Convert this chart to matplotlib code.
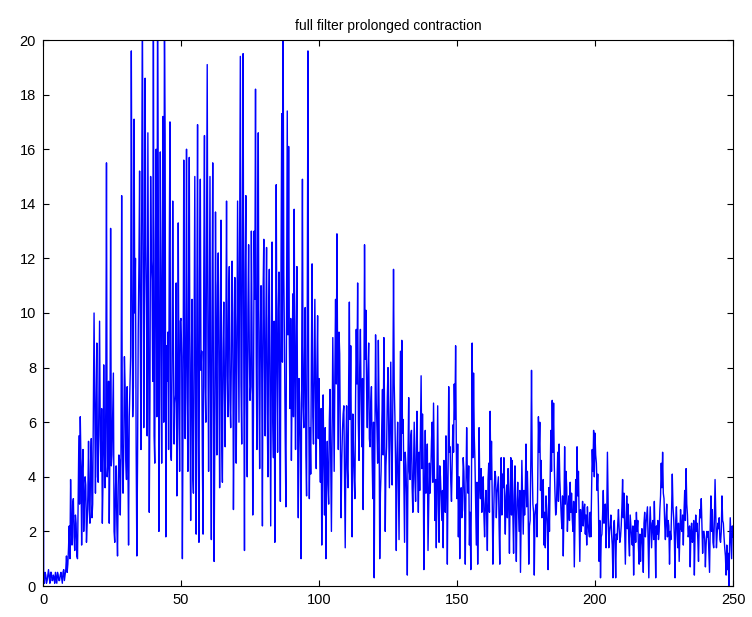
import numpy as np
import matplotlib
matplotlib.use("Agg")
import matplotlib.pyplot as plt

title = "full filter prolonged contraction"
x_ticks = [0, 50, 100, 150, 200, 250]
y_ticks = [0, 2, 4, 6, 8, 10, 12, 14, 16, 18, 20]
step = 0.25

# signal values, blocks of 10 units.
# blk_* : samples at base + 0.5*k ; mid_* : samples at base + 0.25 + 0.5*k
blk_000 = [30.0, 0.1, 0.4, 0.2, 0.6, 0.1, 0.5, 0.2, 0.3, 0.5, 0.1, 0.4, 0.2, 0.5, 0.1, 0.6, 0.4, 1.1, 0.8, 2.2]
blk_010 = [3.9, 1.5, 3.2, 1.3, 2.3, 1.0, 5.5, 6.2, 1.5, 5.0, 2.9, 3.7, 2.3, 5.3, 2.3, 5.4, 3.0, 10.0, 3.4, 8.9]
blk_020 = [3.8, 9.7, 4.2, 2.3, 8.1, 3.6, 15.5, 4.5, 2.3, 13.1, 4.8, 7.8, 1.6, 4.4, 1.1, 4.8, 2.6, 14.3, 3.4, 8.4]
blk_030 = [4.6, 7.3, 1.5, 7.3, 19.6, 6.2, 17.1, 12.0, 1.1, 9.3, 15.2, 5.0, 21.5, 5.8, 18.6, 10.2, 16.6, 2.7, 15.0, 11.2]
blk_040 = [22.0, 4.5, 16.0, 21.0, 2.0, 15.9, 4.5, 17.2, 21.0, 1.8, 7.5, 5.0, 17.0, 4.6, 14.1, 5.2, 7.0, 3.3, 13.3, 4.2]
blk_050 = [9.8, 1.0, 15.6, 5.4, 16.0, 4.2, 15.7, 2.4, 10.5, 3.4, 15.0, 1.9, 16.9, 1.6, 14.9, 8.6, 1.9, 16.5, 6.0, 19.1]
blk_060 = [4.2, 15.0, 1.7, 15.5, 0.9, 13.7, 4.8, 12.2, 3.6, 13.4, 3.8, 10.4, 5.1, 14.1, 6.2, 11.7, 5.8, 11.9, 2.8, 11.3]
blk_070 = [4.5, 14.1, 6.0, 19.4, 5.2, 19.5, 1.3, 14.3, 4.0, 12.5, 6.8, 13.0, 2.6, 13.0, 18.2, 5.0, 16.6, 4.3, 11.0, 2.2]
blk_080 = [12.7, 5.5, 12.4, 4.0, 11.6, 2.2, 12.6, 4.7, 1.6, 14.7, 4.9, 11.5, 3.1, 17.3, 20.5, 8.8, 2.9, 17.4, 16.1, 6.5]
blk_090 = [4.6, 10.7, 13.8, 5.0, 11.7, 2.5, 6.7, 1.0, 14.9, 5.8, 10.2, 3.3, 19.6, 3.2, 4.1, 11.8, 5.2, 10.5, 4.3, 9.9]
blk_100 = [7.6, 3.8, 1.5, 7.0, 2.6, 1.0, 5.3, 3.0, 7.2, 2.0, 9.1, 4.2, 10.5, 12.9, 5.0, 8.5, 2.5, 5.7, 6.6, 1.4]
blk_110 = [6.6, 3.6, 10.4, 8.8, 1.8, 5.0, 3.2, 9.4, 11.1, 4.6, 9.4, 5.1, 2.8, 12.5, 10.1, 5.8, 8.9, 5.1, 7.3, 3.2]
blk_120 = [0.3, 9.2, 5.8, 9.0, 1.0, 4.2, 7.2, 9.1, 2.0, 5.1, 8.0, 3.6, 8.2, 3.7, 11.6, 6.2, 1.3, 6.0, 1.7, 8.6]
blk_130 = [9.0, 6.1, 1.6, 4.4, 0.4, 6.9, 3.9, 5.7, 2.7, 6.0, 3.1, 6.4, 2.7, 3.5, 7.7, 6.3, 0.6, 5.7, 4.0, 1.3]
blk_140 = [4.5, 4.1, 6.0, 6.7, 2.4, 1.4, 6.6, 1.6, 4.0, 2.4, 1.4, 3.5, 5.5, 0.8, 7.3, 5.1, 3.1, 5.9, 7.4, 8.8]
blk_150 = [3.2, 1.8, 1.0, 3.6, 2.8, 4.2, 0.8, 5.8, 3.4, 1.5, 0.6, 8.9, 7.8, 4.6, 1.5, 0.8, 5.8, 3.2, 2.7, 4.0]
blk_160 = [1.8, 3.5, 1.3, 4.5, 6.4, 5.3, 0.8, 3.6, 4.0, 3.4, 4.0, 0.8, 4.7, 4.1, 4.7, 1.9, 3.7, 4.3, 1.2, 4.7]
blk_170 = [4.6, 1.2, 4.4, 0.9, 3.8, 2.0, 0.5, 4.6, 1.9, 2.6, 5.2, 4.2, 0.8, 2.4, 7.9, 3.0, 0.4, 2.9, 1.8, 6.2]
blk_180 = [6.0, 4.6, 3.1, 1.5, 1.4, 2.8, 0.6, 2.0, 5.7, 6.8, 6.7, 3.4, 2.8, 4.9, 5.2, 3.2, 2.1, 1.1, 5.1, 4.2]
blk_190 = [2.0, 3.3, 3.8, 3.4, 2.0, 0.7, 3.9, 5.1, 4.2, 0.9, 2.0, 3.1, 2.8, 1.9, 1.5, 2.3, 1.8, 1.8, 5.0, 5.7]
blk_200 = [5.6, 4.5, 4.1, 0.9, 0.3, 1.9, 3.5, 2.9, 1.4, 4.9, 1.4, 2.2, 1.9, 0.3, 2.4, 0.3, 1.7, 2.8, 1.6, 2.2]
blk_210 = [3.9, 3.4, 0.8, 3.3, 3.0, 1.1, 2.2, 1.5, 0.4, 2.4, 2.7, 2.4, 0.8, 0.9, 2.1, 0.5, 2.7, 2.3, 2.9, 0.3]
blk_220 = [2.9, 1.4, 2.4, 3.1, 0.3, 1.9, 1.7, 2.8, 4.5, 4.9, 3.2, 1.7, 3.0, 2.4, 0.8, 1.7, 4.1, 2.5, 0.3, 2.9]
blk_230 = [1.4, 0.9, 2.8, 2.0, 1.5, 3.5, 4.3, 2.6, 1.9, 0.7, 2.3, 1.7, 0.4, 2.6, 2.3, 0.9, 2.8, 3.2, 1.2, 2.0]
blk_240 = [0.7, 2.0, 2.0, 0.5, 3.3, 2.8, 1.4, 3.9, 1.4, 2.3, 2.5, 1.6, 3.3, 2.3, 1.4, 0.4, 0.6, 0.0, 2.5, 1.0, 1.8]

mid_000 = [0.3, 0.5, 0.1, 0.4, 0.3, 0.5, 0.2, 0.4, 0.1, 0.3, 0.5, 0.2, 0.4, 0.3, 0.5, 0.2, 0.6, 0.5, 1.4, 1.0]
mid_010 = [2.2, 3.0, 1.8, 2.6, 1.1, 3.2, 3.0, 4.6, 4.3, 2.0, 4.0, 1.6, 3.3, 2.8, 4.6, 2.5, 6.6, 6.8, 6.6, 4.0]
mid_020 = [6.7, 5.5, 6.5, 3.9, 5.2, 6.6, 4.0, 7.5, 5.0, 4.4, 6.3, 2.0, 3.5, 2.3, 3.7, 4.6, 4.8, 5.2, 4.9, 7.3]
mid_030 = [3.9, 4.9, 6.2, 8.4, 11.8, 7.3, 10.0, 5.1, 4.5, 11.7, 9.2, 12.8, 13.9, 10.1, 12.5, 5.5, 9.8, 6.9, 11.9, 7.5]
mid_040 = [5.5, 12.5, 6.2, 15.1, 6.8, 11.0, 11.5, 6.0, 16.5, 8.8, 9.3, 12.1, 4.9, 7.8, 9.0, 6.7, 11.1, 5.8, 7.4, 9.7]
mid_050 = [8.4, 6.4, 9.3, 8.5, 6.9, 10.8, 6.8, 8.2, 4.1, 9.6, 6.7, 10.3, 5.5, 11.5, 7.9, 4.5, 11.4, 7.3, 12.2, 9.1]
mid_060 = [9.2, 6.1, 10.2, 7.4, 5.6, 8.7, 11.0, 7.5, 9.8, 5.3, 8.6, 7.2, 9.0, 7.7, 10.4, 6.8, 8.3, 10.0, 6.4, 9.5]
mid_070 = [8.1, 9.8, 12.3, 7.4, 13.2, 8.2, 11.4, 6.7, 10.1, 8.6, 7.3, 9.2, 6.2, 10.5, 8.4, 12.0, 7.4, 9.3, 7.9, 10.8]
mid_080 = [8.2, 9.5, 6.3, 9.8, 7.1, 8.4, 6.0, 9.7, 7.6, 8.0, 10.1, 6.6, 12.0, 8.2, 11.4, 5.5, 10.4, 9.2, 8.9, 9.8]
mid_090 = [7.3, 6.2, 8.1, 9.2, 6.0, 7.6, 4.9, 8.7, 6.6, 8.3, 4.8, 9.9, 7.0, 5.8, 8.5, 6.2, 7.8, 6.9, 8.0, 5.4]
mid_100 = [5.2, 6.5, 4.6, 4.4, 5.8, 4.1, 3.7, 6.1, 4.5, 5.6, 6.6, 7.8, 7.4, 8.1, 9.3, 5.1, 4.6, 6.3, 3.9, 5.0]
mid_110 = [4.3, 7.5, 6.1, 4.8, 6.3, 4.0, 6.8, 7.4, 6.0, 8.0, 6.9, 7.6, 6.8, 8.3, 7.2, 7.9, 5.4, 6.7, 4.7, 6.0]
mid_120 = [5.3, 6.7, 4.5, 6.6, 3.4, 5.9, 4.8, 6.5, 4.4, 6.9, 5.9, 6.1, 5.3, 6.8, 7.4, 4.4, 4.8, 3.9, 5.2, 4.6]
mid_130 = [5.6, 4.0, 4.9, 3.3, 4.8, 4.2, 5.5, 3.6, 4.4, 3.9, 5.0, 4.2, 4.9, 5.6, 4.3, 4.5, 3.6, 3.4, 5.2, 3.0]
mid_140 = [3.4, 5.3, 3.8, 4.5, 3.9, 4.1, 3.0, 4.4, 3.2, 3.5, 4.6, 2.7, 3.9, 4.1, 4.9, 3.8, 4.6, 4.9, 6.1, 5.1]
mid_150 = [5.2, 4.0, 3.4, 2.5, 4.7, 3.0, 3.6, 4.1, 4.4, 2.7, 3.9, 4.7, 5.5, 3.1, 3.8, 2.6, 3.7, 4.3, 3.5, 2.6]
mid_160 = [3.0, 2.6, 3.9, 2.7, 3.9, 3.3, 2.4, 4.2, 2.5, 3.7, 2.2, 3.4, 2.6, 3.6, 2.9, 3.3, 2.5, 3.2, 3.4, 2.6]
mid_170 = [2.6, 3.3, 2.3, 3.1, 2.9, 3.5, 2.7, 3.2, 3.5, 3.6, 2.9, 3.0, 2.2, 4.6, 4.4, 2.7, 2.6, 3.0, 3.8, 4.9]
mid_180 = [3.5, 2.5, 3.9, 2.7, 3.3, 2.2, 3.6, 3.9, 4.2, 4.9, 4.4, 2.6, 3.8, 3.1, 3.9, 2.6, 3.3, 2.8, 3.0, 3.6]
mid_190 = [2.8, 2.4, 2.7, 2.5, 3.1, 2.3, 2.7, 3.3, 2.5, 2.8, 2.4, 2.2, 3.0, 2.6, 2.9, 2.0, 2.7, 3.3, 4.2, 4.0]
mid_200 = [4.8, 3.5, 2.9, 2.4, 1.8, 2.6, 2.3, 3.0, 2.5, 3.1, 2.0, 2.6, 1.5, 2.2, 1.5, 1.9, 2.3, 2.1, 1.8, 2.9]
mid_210 = [2.5, 2.0, 2.4, 2.1, 1.6, 2.6, 1.8, 2.2, 1.9, 1.6, 2.0, 1.4, 1.9, 1.7, 1.5, 2.3, 1.8, 2.6, 1.6, 2.1]
mid_220 = [2.1, 2.3, 1.7, 1.9, 2.2, 2.4, 2.0, 3.3, 3.6, 3.4, 2.3, 2.5, 1.8, 2.2, 2.0, 2.8, 2.9, 1.8, 2.4, 2.0]
mid_230 = [2.3, 1.9, 2.1, 2.6, 2.7, 2.4, 3.0, 1.8, 2.2, 2.0, 1.6, 2.4, 1.9, 2.0, 1.7, 2.2, 2.5, 2.2, 2.0, 1.7]
mid_240 = [1.5, 1.8, 1.3, 2.2, 2.0, 1.6, 2.4, 2.6, 1.9, 2.1, 1.7, 2.0, 2.4, 1.8, 1.1, 1.5, 1.2, 1.4, 1.8, 2.2]

blocks = [blk_000, blk_010, blk_020, blk_030, blk_040, blk_050, blk_060, blk_070,
          blk_080, blk_090, blk_100, blk_110, blk_120, blk_130, blk_140, blk_150,
          blk_160, blk_170, blk_180, blk_190, blk_200, blk_210, blk_220, blk_230, blk_240]
mids = [mid_000, mid_010, mid_020, mid_030, mid_040, mid_050, mid_060, mid_070,
        mid_080, mid_090, mid_100, mid_110, mid_120, mid_130, mid_140, mid_150,
        mid_160, mid_170, mid_180, mid_190, mid_200, mid_210, mid_220, mid_230, mid_240]

values = []
for b, m in zip(blocks, mids):
    for k in range(len(m)):
        values.append(b[k])
        values.append(m[k])
    values.extend(b[len(m):])
values = np.array(values, dtype=float)
t = np.arange(len(values)) * step

plt.rcParams['font.family'] = ['Liberation Sans', 'DejaVu Sans']
fig = plt.figure(figsize=(7.52, 6.17), dpi=100)
ax = fig.add_axes([43/752, 1-586/617, (733-43)/752, (586-40)/617])
ax.plot(t, values, color=(0, 0, 1), lw=1.0)
ax.set_xlim(0, 250)
ax.set_ylim(0, 20)
ax.set_xticks(x_ticks)
ax.set_yticks(y_ticks)
ax.tick_params(direction='in', top=True, right=True, length=4, width=0.8,
               labelsize=10.5, pad=5)
for s in ax.spines.values():
    s.set_linewidth(0.8)
ax.set_title(title, fontsize=10, pad=7)
fig.savefig("out.png", dpi=100)
